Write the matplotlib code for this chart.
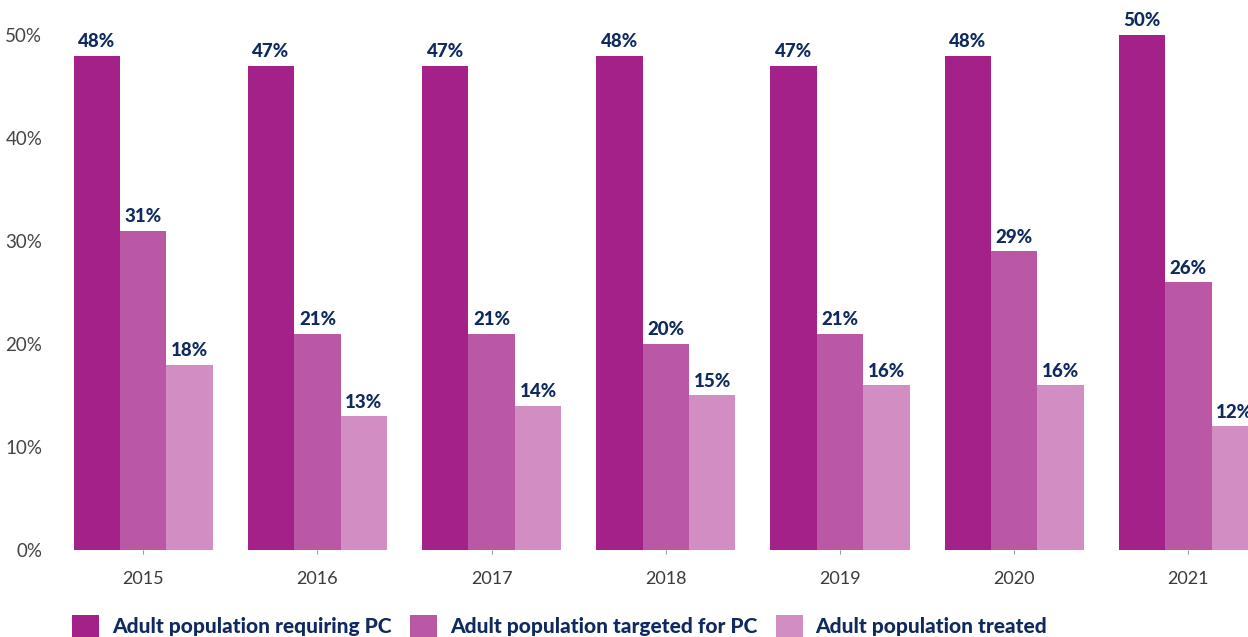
import numpy as np
import matplotlib.pyplot as plt

years = ['2015', '2016', '2017', '2018', '2019', '2020', '2021']
requiring = [48, 47, 47, 48, 47, 48, 50]
targeted = [31, 21, 21, 20, 21, 29, 26]
treated = [18, 13, 14, 15, 16, 16, 12]

series = [
    ('Adult population requiring PC', requiring, '#A4218A'),
    ('Adult population targeted for PC', targeted, '#BA58A6'),
    ('Adult population treated', treated, '#D28EC3'),
]
label_color = '#0E2A5E'

plt.rcParams['font.family'] = ['Lato', 'DejaVu Sans']

fig = plt.figure(figsize=(12.48, 6.37), dpi=100)
# axes runs a little past the right edge, so the last group is cut off
ax = fig.add_axes([0.045, 0.1366, 0.977, 0.8085])

x = np.arange(len(years))
w = 0.8 / 3
for i, (name, vals, color) in enumerate(series):
    bars = ax.bar(x + (i - 1) * w, vals, w, color=color, label=name)
    for b, v in zip(bars, vals):
        ax.annotate(f'{v}%', (b.get_x() + b.get_width() / 2, v),
                    xytext=(0, 4), textcoords='offset points',
                    ha='center', va='bottom', fontsize=13.5,
                    fontweight='black', color=label_color, clip_on=False)

ax.set_xlim(-0.5, 6.5)
ax.set_ylim(0, 50)
ax.set_xticks(x)
ax.set_xticklabels(years)
ax.set_yticks(range(0, 51, 10))
ax.set_yticklabels([f'{t}%' for t in range(0, 51, 10)])
ax.tick_params(axis='x', length=3, color='#999999', labelsize=13,
               labelcolor='#3a3a3a', pad=12)
ax.tick_params(axis='y', length=0, labelsize=13.5, labelcolor='#444444', pad=10)
for s in ax.spines.values():
    s.set_visible(False)

leg = fig.legend(loc='lower left', bbox_to_anchor=(0.043, -0.03), ncol=3,
                 frameon=False, handlelength=1.3, handleheight=1.3,
                 handletextpad=0.6, columnspacing=0.9,
                 prop={'weight': 'black', 'size': 15})
for t in leg.get_texts():
    t.set_color(label_color)

fig.savefig('out.png', dpi=100)
